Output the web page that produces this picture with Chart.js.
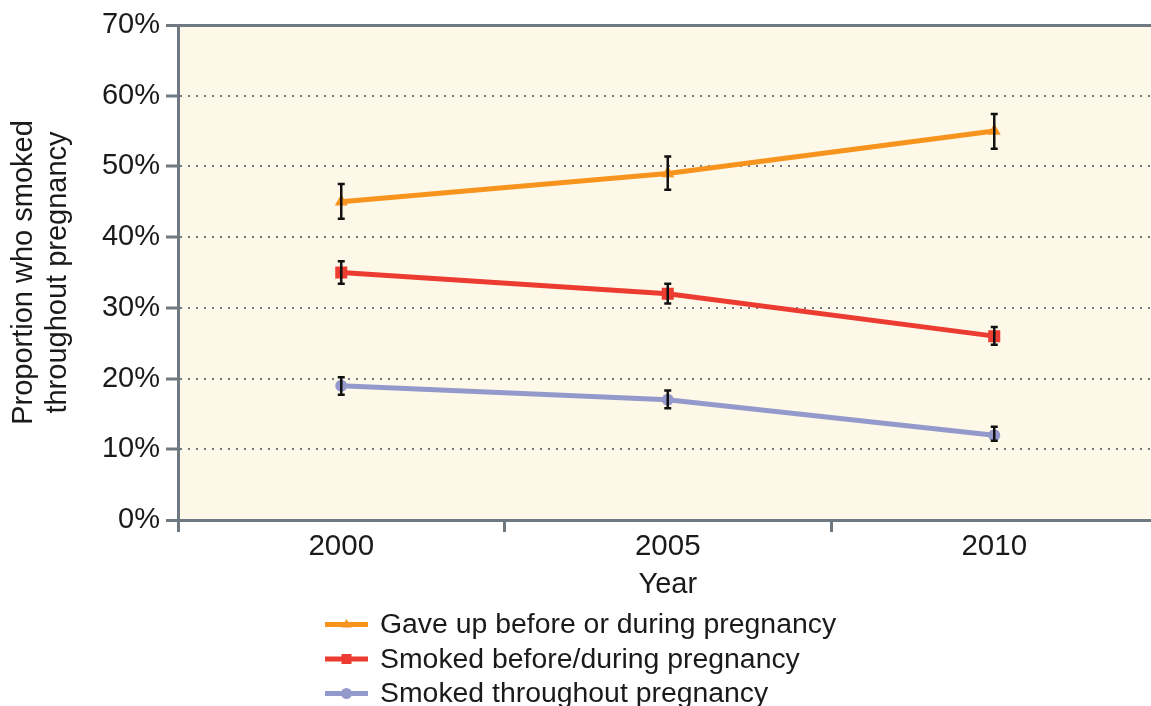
<!DOCTYPE html>
<html><head><meta charset="utf-8">
<script src="https://cdn.jsdelivr.net/npm/chart.js@4"></script>
<style>html,body{margin:0;padding:0;overflow:hidden;background:#fff}
#wrap{width:1166px;height:706px;position:relative}</style>
</head><body><div id="wrap"><canvas id="c" width="1166" height="706"></canvas></div>
<script>
const years = ['2000', '2005', '2010'];
const gaveUp = [45, 49, 55];
const gaveUpLow = [42.6, 46.7, 52.5];
const gaveUpHigh = [47.5, 51.4, 57.4];
const smokedBefore = [35, 32, 26];
const smokedBeforeLow = [33.4, 30.6, 24.8];
const smokedBeforeHigh = [36.6, 33.4, 27.3];
const smokedThroughout = [19, 17, 12];
const smokedThroughoutLow = [17.7, 15.8, 11.2];
const smokedThroughoutHigh = [20.2, 18.3, 13.2];
const yTicks = [0, 10, 20, 30, 40, 50, 60, 70];
const seriesLabels = ['Gave up before or during pregnancy', 'Smoked before/during pregnancy', 'Smoked throughout pregnancy'];

const AXIS = '#6e7981';
const FONT = '"Liberation Sans", Arial, Helvetica, sans-serif';
const TXT = '#1a1a1a';

const bgPlugin = {
  id: 'bg',
  beforeDraw(chart) {
    const {ctx, chartArea: a} = chart;
    ctx.save();
    ctx.fillStyle = '#fdf8e7';
    ctx.fillRect(a.left, a.top, a.right - a.left, a.bottom - a.top);
    ctx.restore();
  }
};

const errPlugin = {
  id: 'err',
  afterDatasetsDraw(chart) {
    const ctx = chart.ctx, y = chart.scales.y;
    chart.data.datasets.forEach((ds, i) => {
      const meta = chart.getDatasetMeta(i);
      meta.data.forEach((pt, j) => {
        const x = pt.x;
        const yl = y.getPixelForValue(ds.errLow[j]);
        const yh = y.getPixelForValue(ds.errHigh[j]);
        ctx.save();
        ctx.strokeStyle = '#111';
        ctx.lineWidth = 2.5;
        ctx.beginPath();
        ctx.moveTo(x, yl); ctx.lineTo(x, yh);
        ctx.moveTo(x - 3.5, yl); ctx.lineTo(x + 3.5, yl);
        ctx.moveTo(x - 3.5, yh); ctx.lineTo(x + 3.5, yh);
        ctx.stroke();
        ctx.restore();
      });
    });
  }
};

const legendPlugin = {
  id: 'vlegend',
  afterDraw(chart) {
    const ctx = chart.ctx;
    const base = chart.chartArea.bottom + 104.5;
    chart.data.datasets.forEach((ds, i) => {
      const y = base + i * 34.5;
      const x0 = 325, x1 = 368, xm = (x0 + x1) / 2;
      ctx.save();
      ctx.strokeStyle = ds.borderColor;
      ctx.fillStyle = ds.borderColor;
      ctx.lineWidth = 5;
      ctx.beginPath(); ctx.moveTo(x0, y); ctx.lineTo(x1, y); ctx.stroke();
      ctx.beginPath();
      if (ds.pointStyle === 'triangle') {
        ctx.moveTo(xm, y - 5.5); ctx.lineTo(xm + 5, y + 3); ctx.lineTo(xm - 5, y + 3); ctx.closePath();
      } else if (ds.pointStyle === 'rect') {
        ctx.rect(xm - 5, y - 5, 10, 10);
      } else {
        ctx.arc(xm, y, 5.5, 0, Math.PI * 2);
      }
      ctx.fill();
      ctx.fillStyle = TXT;
      ctx.font = '28.4px ' + FONT;
      ctx.textBaseline = 'middle';
      ctx.textAlign = 'left';
      ctx.fillText(ds.label, 380, y + 1);
      ctx.restore();
    });
  }
};

new Chart(document.getElementById('c'), {
  type: 'line',
  data: {
    labels: years,
    datasets: [
      {label: seriesLabels[0], data: gaveUp, errLow: gaveUpLow, errHigh: gaveUpHigh,
       borderColor: '#f7941e', backgroundColor: '#f7941e', pointStyle: 'triangle', pointRadius: 7.5},
      {label: seriesLabels[1], data: smokedBefore, errLow: smokedBeforeLow, errHigh: smokedBeforeHigh,
       borderColor: '#ec3b31', backgroundColor: '#ec3b31', pointStyle: 'rect', pointRadius: 8.5},
      {label: seriesLabels[2], data: smokedThroughout, errLow: smokedThroughoutLow, errHigh: smokedThroughoutHigh,
       borderColor: '#9499cc', backgroundColor: '#9499cc', pointStyle: 'circle', pointRadius: 6}
    ]
  },
  options: {
    responsive: false,
    animation: false,
    devicePixelRatio: 1,
    layout: {padding: {top: 25, right: 1, bottom: 0, left: 0}},
    elements: {
      line: {borderWidth: 5, tension: 0},
      point: {borderWidth: 0, hoverRadius: 7}
    },
    plugins: {legend: {display: false}, tooltip: {enabled: false}},
    scales: {
      x: {
        type: 'category',
        offset: true,
        afterFit: s => { s.height = 186; },
        grid: {offset: true, drawOnChartArea: false, drawTicks: true, tickLength: 12, tickColor: AXIS, tickWidth: 3},
        border: {display: true, color: AXIS, width: 3},
        ticks: {color: TXT, padding: -3, font: {family: FONT, size: 29.5}},
        title: {display: true, text: 'Year', color: TXT, font: {family: FONT, size: 29, lineHeight: 1.2}, padding: {top: 0, bottom: 104}}
      },
      y: {
        min: 0, max: 70,
        afterFit: s => { s.width = 178; },
        afterBuildTicks: s => { s.ticks = yTicks.map(v => ({value: v})); },
        grid: {
          color: AXIS,
          lineWidth: c => (c.tick && (c.tick.value === 0 || c.tick.value === 70)) ? 3 : 2,
          drawTicks: true, tickLength: 12, tickColor: AXIS, tickWidth: 3
        },
        border: {
          display: true, color: AXIS, width: 3,
          dash: c => (c.tick && (c.tick.value === 0 || c.tick.value === 70)) ? [] : [2, 6]
        },
        ticks: {color: TXT, padding: 6, font: {family: FONT, size: 29}, callback: v => v + '%'},
        title: {display: true, text: ['Proportion who smoked', 'throughout pregnancy'], color: TXT,
                font: {family: FONT, size: 29, lineHeight: 1.18}, padding: {top: 7, bottom: 0}}
      }
    }
  },
  plugins: [bgPlugin, errPlugin, legendPlugin]
});
</script></body></html>
